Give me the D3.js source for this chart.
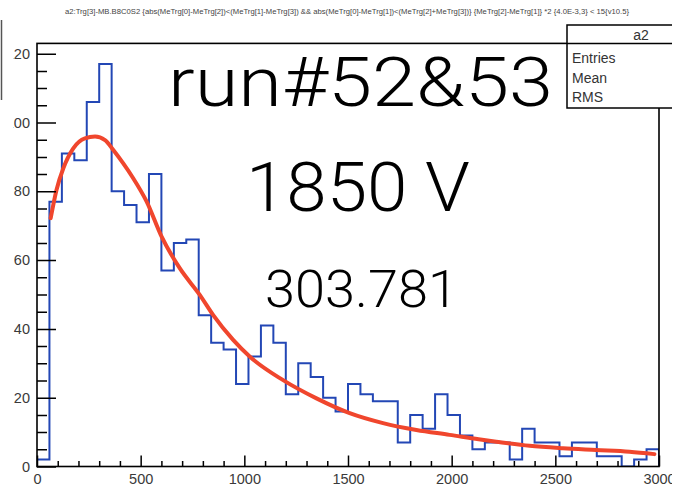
<!DOCTYPE html>
<html>
<head>
<meta charset="utf-8">
<script src="https://cdn.jsdelivr.net/npm/d3@7"></script>
<style>
  html, body { margin: 0; padding: 0; background: #fff; }
  svg { display: block; }
</style>
</head>
<body>
<svg id="chart" width="685" height="488"></svg>
<script>
// ---------------- data ----------------
const histName = "a2";
const titleText = "a2:Trg[3]-MB.B8C0S2 {abs(MeTrg[0]-MeTrg[2])<(MeTrg[1]-MeTrg[3]) && abs(MeTrg[0]-MeTrg[1])<(MeTrg[2]+MeTrg[3])} {MeTrg[2]-MeTrg[1]} *2 {4.0E-3,3} < 15{v10.5}";
const binStart = 0;
const binWidth = 60;
const counts = [2, 77, 91, 89, 106, 117, 80, 76, 71, 85,
                57, 65, 66, 44, 36, 34, 24, 32, 41, 36,
                21, 30, 26, 20, 16, 24, 21, 19, 19, 7,
                15, 11, 21, 15, 9, 5, 7, 7, 2, 11,
                7, 7, 3, 7, 7, 3, 3, 0, 2, 5];
const fitX = [66, 94, 127, 175, 231, 280, 328, 368, 416, 464, 529, 601, 690, 785, 850, 946, 1027, 1187, 1348, 1508, 1669, 1830, 1990, 2130, 2215, 2376, 2537, 2697, 2858, 2978];
const fitY = [72.2, 80.4, 86.7, 92.5, 95.4, 95.9, 94.9, 92.0, 88.1, 83.8, 77.0, 66.8, 57.5, 49.9, 44.0, 36.8, 31.9, 25.1, 19.8, 15.5, 12.6, 10.6, 9.2, 7.9, 7.2, 6.0, 5.3, 4.8, 4.3, 3.6];
const xTicks = [0, 500, 1000, 1500, 2000, 2500, 3000];
const yTicks = [0, 20, 40, 60, 80, 100, 120];
const statLabels = ["Entries", "Mean", "RMS"];
const overlayTexts = ["run#52&53", "1850 V", "303.781"];

// ---------------- drawing ----------------
const svg = d3.select("#chart");
const W = 685, H = 488;
const x = d3.scaleLinear().domain([0, 3000]).range([37, 659]);
const y = d3.scaleLinear().domain([0, 123]).range([466.5, 43.4]);

const defs = svg.append("defs");
defs.append("clipPath").attr("id", "pageClip")
  .append("rect").attr("x", 13.2).attr("y", 0).attr("width", 672 - 13.2).attr("height", H);
defs.append("clipPath").attr("id", "plotClip")
  .append("rect").attr("x", x(0)).attr("y", y(123)).attr("width", x(3000) - x(0)).attr("height", y(0) - y(123));

// stray line on the far left
svg.append("line").attr("x1", 1.5).attr("x2", 1.5).attr("y1", 20).attr("y2", 100)
  .attr("stroke", "#555").attr("stroke-width", 1.5);

const g = svg.append("g").attr("clip-path", "url(#pageClip)");

// title
g.append("text")
  .attr("x", 347).attr("y", 14)
  .attr("text-anchor", "middle")
  .attr("font-family", "Liberation Sans, Arial, sans-serif")
  .attr("font-size", 6.5)
  .attr("fill", "#444")
  .attr("textLength", 564).attr("lengthAdjust", "spacingAndGlyphs")
  .text(titleText);

// histogram outline
const edges = counts.map((c, i) => binStart + i * binWidth);
const pts = [[x(binStart), y(0)]];
counts.forEach((c, i) => {
  pts.push([x(edges[i]), y(c)]);
  pts.push([x(edges[i] + binWidth), y(c)]);
});
pts.push([x(binStart + counts.length * binWidth), y(0)]);
g.append("path")
  .attr("d", d3.line()(pts))
  .attr("fill", "none")
  .attr("stroke", "#2347b5")
  .attr("stroke-width", 2)
  .attr("clip-path", "url(#plotClip)");

// fit curve
const fitLine = d3.line().x(d => x(d[0])).y(d => y(d[1])).curve(d3.curveMonotoneX);
g.append("path")
  .datum(fitX.map((v, i) => [v, fitY[i]]))
  .attr("d", fitLine)
  .attr("fill", "none")
  .attr("stroke", "#f0462d")
  .attr("stroke-width", 4)
  .attr("stroke-linecap", "round")
  .attr("stroke-linejoin", "round");

// axes
const axisFont = "Liberation Sans, Arial, sans-serif";
const yAxis = g.append("g").attr("transform", `translate(${x(0)},0)`)
  .call(d3.axisLeft(y).tickValues(yTicks).tickSize(-19).tickPadding(7).tickFormat(d3.format("d")));
const yMinor = g.append("g").attr("transform", `translate(${x(0)},0)`)
  .call(d3.axisLeft(y).tickValues(d3.range(0, 123, 5).filter(v => v % 20 !== 0)).tickSize(-10).tickFormat(""));
const xAxis = g.append("g").attr("transform", `translate(0,${y(0)})`)
  .call(d3.axisBottom(x).tickValues(xTicks).tickSize(-11).tickPadding(7).tickFormat(d3.format("d")));
const xMinor = g.append("g").attr("transform", `translate(0,${y(0)})`)
  .call(d3.axisBottom(x).tickValues(d3.range(0, 3001, 100).filter(v => v % 500 !== 0)).tickSize(-5.5).tickFormat(""));
[yAxis, yMinor, xAxis, xMinor].forEach(a => {
  a.select(".domain").remove();
  a.selectAll(".tick line").attr("stroke", "#000").attr("stroke-width", 1.5);
  a.selectAll("text").attr("font-family", axisFont).attr("font-size", 14.5).attr("fill", "#3a3a3a");
});

// frame
g.append("rect")
  .attr("x", x(0)).attr("y", y(123))
  .attr("width", x(3000) - x(0)).attr("height", y(0) - y(123))
  .attr("fill", "none").attr("stroke", "#000").attr("stroke-width", 1.6);

// stats box
const sb = g.append("g");
sb.append("rect").attr("x", 567).attr("y", 25).attr("width", 130).attr("height", 83)
  .attr("fill", "#fff").attr("stroke", "#000").attr("stroke-width", 1.5);
sb.append("line").attr("x1", 567).attr("x2", 697).attr("y1", y(123)).attr("y2", y(123))
  .attr("stroke", "#000").attr("stroke-width", 1.5);
sb.append("text").attr("x", 641).attr("y", 39.5).attr("text-anchor", "middle")
  .attr("font-family", axisFont).attr("font-size", 14).attr("fill", "#333").text(histName);
statLabels.forEach((s, i) => {
  sb.append("text").attr("x", 572).attr("y", 63 + i * 19.5)
    .attr("font-family", axisFont).attr("font-size", 14).attr("fill", "#333").text(s);
});

// overlay texts
const bigFont = "Roboto, 'Liberation Sans', Arial, sans-serif";
const big = [
  { t: overlayTexts[0], cx: 360.5, by: 106, fs: 68, w: 385 },
  { t: overlayTexts[1], cx: 358, by: 211, fs: 68, w: 224 },
  { t: overlayTexts[2], cx: 361.5, by: 306.5, fs: 52, w: 193 }
];
big.forEach(b => {
  g.append("text").attr("x", b.cx).attr("y", b.by).attr("text-anchor", "middle")
    .attr("font-family", bigFont).attr("font-weight", 300).attr("font-size", b.fs)
    .attr("fill", "#000")
    .attr("textLength", b.w).attr("lengthAdjust", "spacingAndGlyphs")
    .text(b.t);
});
</script>
</body>
</html>
